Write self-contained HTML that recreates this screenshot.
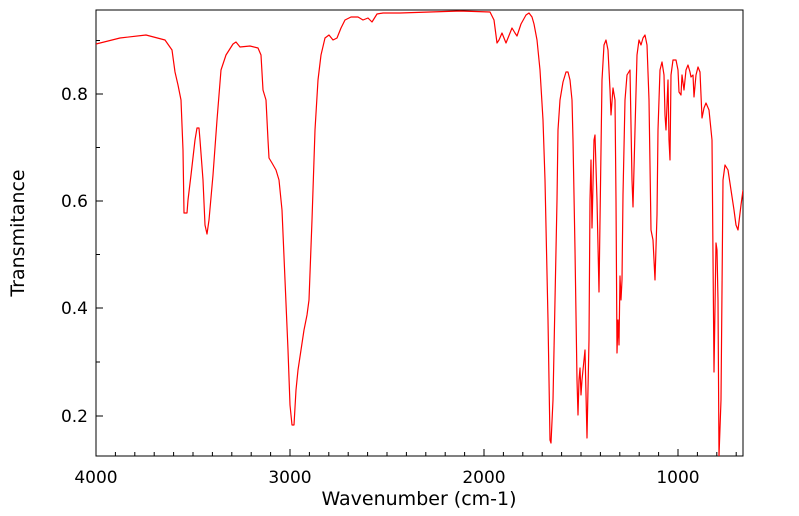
<!DOCTYPE html>
<html><head><style>body{margin:0;background:#fff}svg{display:block}</style></head><body>
<svg width="799" height="516" xmlns="http://www.w3.org/2000/svg" font-family="DejaVu Sans, Liberation Sans, sans-serif">
<defs><clipPath id="c"><rect x="96" y="10" width="647" height="446"/></clipPath></defs>
<rect x="96" y="10" width="647" height="446" fill="none" stroke="#000" stroke-width="1"/>
<g stroke="#000" stroke-width="1">
<path d="M96,456v-7M115.4,456v-4M134.8,456v-4M154.2,456v-4M173.6,456v-4M193,456v-4M212.4,456v-4M231.8,456v-4M251.2,456v-4M270.6,456v-4M290,456v-7M309.4,456v-4M328.8,456v-4M348.2,456v-4M367.6,456v-4M387,456v-4M406.4,456v-4M425.8,456v-4M445.2,456v-4M464.6,456v-4M484,456v-7M503.4,456v-4M522.8,456v-4M542.2,456v-4M561.6,456v-4M581,456v-4M600.4,456v-4M619.8,456v-4M639.2,456v-4M658.6,456v-4M678,456v-7M697.4,456v-4M716.8,456v-4M736.2,456v-4"/>
<path d="M96,40.5h4M96,94h7M96,147.5h4M96,201h7M96,254.5h4M96,308h7M96,362h4M96,416h7"/>
</g>
<polyline clip-path="url(#c)" fill="none" stroke="#ff0000" stroke-width="1.2" stroke-linejoin="round" points="96,44 120,38 146,35 165,40 172,50 175,72 178,85 181,100 183,150 184,213 187,213 188,200 191,175 195,140 197,128 199,128 200,140 203,180 205,225 207,234 209,220 213,175 217,120 221,70 226,55 233,44 236,42 240,47 250,46 258,48 261,55 263,90 266,100 268,140 269,158 272,163 276,170 279,180 282,210 285,280 288,350 290,405 292,425 294,425 296,390 298,370 301,350 304,330 307,315 309,300 312,220 315,130 318,80 321,55 325,38 329,35 333,40 337,38 341,28 345,20 351,17 358,17 363,20 368,18 372,22 377,14 383,13 400,13 430,12 460,11 490,12 494,20 497,43 499,40 502,33 506,43 508,38 512,28 515,33 517,36 521,24 526,15 529,13 532,17 534,24 537,40 540,70 543,120 545,180 548,320 550,440 551,443 553,400 555,300 557,200 558,130 560,100 563,82 566,72 568,72 570,80 572,100 573,140 575,250 577,380 578,415 579,380 580,368 581,395 582,380 585,350 587,438 589,340 590,200 591,160 592,228 594,140 595,135 597,200 599,292 601,150 602,80 604,45 606,40 608,50 610,90 611,115 613,88 615,100 616,200 617,353 618,320 619,345 620,276 621,300 622,280 623,195 625,100 627,75 630,70 632,180 633,207 635,130 637,55 639,40 641,45 643,38 645,35 647,45 649,100 651,230 653,240 655,280 657,215 658,130 660,70 662,62 664,75 665,115 666,130 667,105 668,80 669,140 670,160 671,75 673,60 676,60 678,70 679,92 681,95 682,75 684,90 686,70 688,65 690,72 691,77 693,75 694,97 696,75 698,67 700,72 702,118 704,108 706,103 709,110 712,140 714,372 716,243 717,250 718,300 719,456 721,400 723,180 725,165 728,170 731,190 734,210 736,225 738,230 741,205 743,190"/>
<g font-size="17" fill="#000">
<text x="88" y="100" text-anchor="end">0.8</text>
<text x="88" y="207" text-anchor="end">0.6</text>
<text x="88" y="314" text-anchor="end">0.4</text>
<text x="88" y="422" text-anchor="end">0.2</text>
<text x="96" y="483" text-anchor="middle">4000</text>
<text x="290" y="483" text-anchor="middle">3000</text>
<text x="484" y="483" text-anchor="middle">2000</text>
<text x="678" y="483" text-anchor="middle">1000</text>
</g>
<g font-size="19" fill="#000">
<text x="419" y="505" text-anchor="middle">Wavenumber (cm-1)</text>
<text transform="translate(24,233) rotate(-90)" text-anchor="middle">Transmitance</text>
</g>
</svg>
</body></html>
